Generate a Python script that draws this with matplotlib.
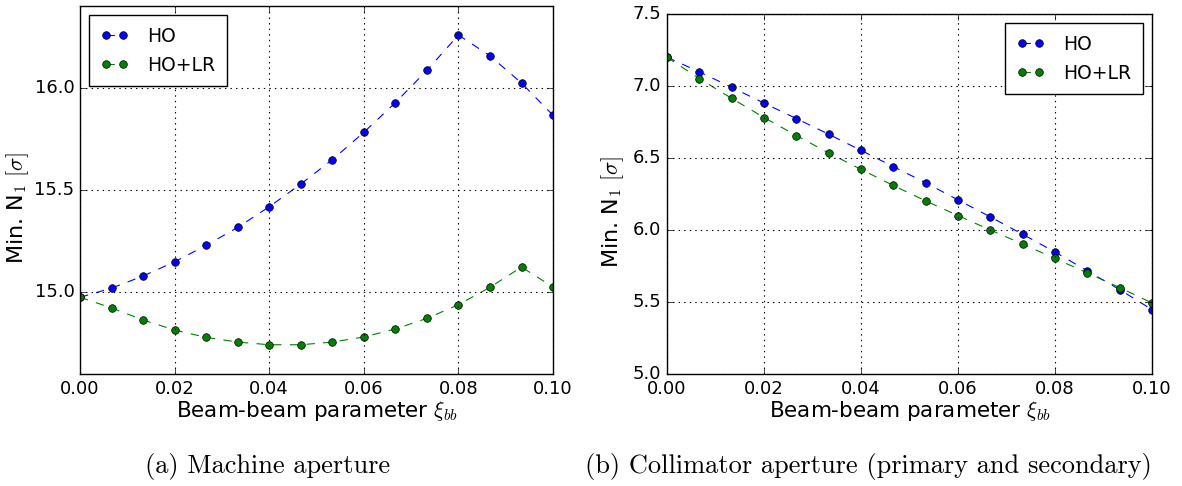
import numpy as np
import matplotlib
matplotlib.use('Agg')
import matplotlib.pyplot as plt

plt.style.use('classic')
matplotlib.rcParams['mathtext.fontset'] = 'cm'

# beam-beam parameter scan, 16 points from 0 to 0.1
xi_bb = np.linspace(0.0, 0.1, 16)

# (a) machine aperture
mach_ho = [14.975, 15.02, 15.079, 15.149, 15.229, 15.317, 15.418, 15.529,
           15.648, 15.782, 15.927, 16.085, 16.258, 16.156, 16.023, 15.865]
mach_holr = [14.975, 14.923, 14.864, 14.815, 14.779, 14.756, 14.743, 14.743,
             14.756, 14.781, 14.820, 14.872, 14.939, 15.024, 15.123, 15.025]

# (b) collimator aperture
coll_ho = [7.2, 7.098, 6.991, 6.881, 6.774, 6.665, 6.553, 6.440,
           6.328, 6.209, 6.091, 5.970, 5.847, 5.716, 5.586, 5.447]
coll_holr = [7.2, 7.051, 6.914, 6.781, 6.656, 6.535, 6.421, 6.309,
             6.202, 6.100, 6.0, 5.902, 5.802, 5.702, 5.6, 5.493]

labels = ['HO', 'HO+LR']
captions = ['(a) Machine aperture',
            '(b) Collimator aperture (primary and secondary)']

fig = plt.figure(figsize=(11.82, 4.86), dpi=100, facecolor='white')
ax1 = fig.add_axes([0.0677, 0.2305, 0.4002, 0.7572])
ax2 = fig.add_axes([0.5643, 0.2305, 0.4103, 0.7407])


def draw(ax, y1, y2, ylim, yticks, loc, ylab_x, ylab_y):
    ax.plot(xi_bb, y1, 'o--', color='b', markersize=5.5, linewidth=0.8,
            label=labels[0])
    ax.plot(xi_bb, y2, 'o--', color='g', markersize=5.5, linewidth=0.8,
            label=labels[1])
    ax.set_xlim(0, 0.1)
    ax.set_ylim(*ylim)
    ax.set_xticks(np.arange(0, 0.101, 0.02))
    ax.set_yticks(yticks)
    ax.grid(True, color='k', linestyle=':', linewidth=0.8)
    ax.tick_params(labelsize=13)
    ax.set_xlabel(r'Beam-beam parameter $\xi_{bb}$', fontsize=15.5, labelpad=1)
    ax.set_ylabel(r'Min. N$_1$ $[\sigma]$', fontsize=16)
    ax.yaxis.set_label_coords(ylab_x, ylab_y)
    ax.legend(loc=loc, fontsize=13.5, numpoints=2, handlelength=1.5,
              handletextpad=1.0, borderpad=0.6, labelspacing=0.55)


draw(ax1, mach_ho, mach_holr, (14.6, 16.4), [15.0, 15.5, 16.0],
     'upper left', -0.104, 0.45)
draw(ax2, coll_ho, coll_holr, (5.0, 7.5),
     [5.0, 5.5, 6.0, 6.5, 7.0, 7.5], 'upper right', -0.085, 0.45)

fig.text(267.5 / 1182, 0.040, captions[0], ha='center', va='center',
         fontsize=19, family='cmr10')
fig.text(868 / 1182, 0.040, captions[1], ha='center', va='center',
         fontsize=19, family='cmr10')

fig.savefig('out.png', dpi=100, facecolor='white')
